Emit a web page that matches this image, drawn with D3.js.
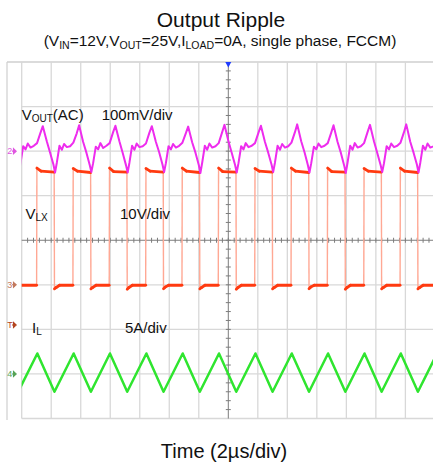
<!DOCTYPE html>
<html>
<head>
<meta charset="utf-8">
<script src="https://cdn.jsdelivr.net/npm/d3@7"></script>
<style>
  html, body { margin: 0; padding: 0; background: #fff; }
  svg { display: block; font-family: "Liberation Sans", Arial, Helvetica, sans-serif; }
</style>
</head>
<body>
<svg id="chart" width="433" height="467"></svg>
<script>
// ---- scope settings ----
// 2 µs/div over 14 horizontal divisions, 8 vertical divisions, trigger at t = 0
const timeGrid = [-14, -12, -10, -8, -6, -4, -2, 0, 2, 4, 6, 8, 10, 12, 14];   // µs
const divGrid = [-4, -3, -2, -1, 0, 1, 2, 3, 4];

// ---- V_OUT (AC coupled), [time µs, mV] ----
const voutTrace = [
  [-15.03, 54], [-14.76, 21], [-14.53, -5], [-14.31, -31], [-14.20, -47], [-14.08, -27], [-13.90, 11], [-13.74, 4], [-13.59, 17], [-13.40, 8], [-13.18, 12], [-12.96, 18], [-12.73, 41],
  [-12.57, 56], [-12.30, 22], [-12.07, -4], [-11.85, -30], [-11.74, -48], [-11.62, -26], [-11.44, 12], [-11.28, 3], [-11.13, 16], [-10.94, 9], [-10.72, 11], [-10.50, 19], [-10.27, 40],
  [-10.11, 58], [-9.84, 21], [-9.61, -4], [-9.39, -31], [-9.28, -47], [-9.16, -27], [-8.98, 10], [-8.82, 4], [-8.67, 18], [-8.48, 7], [-8.26, 12], [-8.04, 18], [-7.81, 42],
  [-7.65, 57], [-7.38, 22], [-7.15, -5], [-6.93, -32], [-6.82, -48], [-6.70, -26], [-6.52, 12], [-6.36, 3], [-6.21, 17], [-6.02, 9], [-5.80, 11], [-5.58, 17], [-5.35, 41],
  [-5.18, 56], [-4.91, 21], [-4.68, -3], [-4.46, -30], [-4.35, -47], [-4.23, -27], [-4.05, 11], [-3.89, 4], [-3.74, 16], [-3.55, 8], [-3.33, 12], [-3.11, 19], [-2.88, 40],
  [-2.72, 55], [-2.45, 20], [-2.22, -4], [-2.00, -31], [-1.89, -49], [-1.77, -26], [-1.59, 12], [-1.43, 3], [-1.28, 17], [-1.09, 8], [-0.87, 11], [-0.65, 18], [-0.42, 42],
  [-0.26, 59], [0.01, 22], [0.24, -5], [0.46, -31], [0.57, -48], [0.69, -27], [0.87, 11], [1.03, 4], [1.18, 18], [1.37, 9], [1.59, 12], [1.81, 18], [2.04, 41],
  [2.21, 57], [2.48, 21], [2.71, -4], [2.93, -30], [3.04, -47], [3.16, -26], [3.34, 12], [3.50, 3], [3.65, 16], [3.84, 8], [4.06, 11], [4.28, 19], [4.51, 42],
  [4.67, 60], [4.94, 22], [5.17, -3], [5.39, -31], [5.50, -48], [5.62, -27], [5.80, 10], [5.96, 4], [6.11, 17], [6.30, 9], [6.52, 12], [6.74, 18], [6.97, 41],
  [7.13, 58], [7.40, 21], [7.63, -4], [7.85, -32], [7.96, -49], [8.08, -26], [8.26, 12], [8.42, 3], [8.57, 18], [8.76, 8], [8.98, 11], [9.20, 18], [9.43, 42],
  [9.60, 59], [9.87, 22], [10.10, -5], [10.32, -31], [10.43, -47], [10.55, -27], [10.73, 11], [10.89, 4], [11.04, 17], [11.23, 9], [11.45, 12], [11.67, 19], [11.90, 42],
  [12.06, 60], [12.33, 21], [12.56, -4], [12.78, -30], [12.89, -48], [13.01, -26], [13.19, 12], [13.35, 3], [13.50, 17], [13.69, 8], [13.91, 11], [14.13, 18], [14.36, 41],
  [14.52, 58]
];

// ---- V_LX switch node, [time µs, V] ----
const vlxTrace = [
  [-14.50, -0.1],
  [-12.99, -0.1], [-12.97, 26.2], [-12.69, 25.5], [-11.80, 25.3], [-11.78, -0.9], [-11.66, -0.6], [-11.43, -0.1],
  [-10.53, -0.1], [-10.51, 26.1], [-10.23, 25.5], [-9.33, 25.2], [-9.31, -0.9], [-9.19, -0.6], [-8.96, -0.1],
  [-8.07, -0.1], [-8.05, 26.2], [-7.77, 25.4], [-6.87, 25.3], [-6.85, -1.0], [-6.73, -0.6], [-6.50, -0.1],
  [-5.60, -0.1], [-5.58, 26.1], [-5.30, 25.5], [-4.41, 25.3], [-4.39, -0.9], [-4.27, -0.5], [-4.04, -0.1],
  [-3.14, -0.1], [-3.12, 26.2], [-2.84, 25.5], [-1.95, 25.2], [-1.93, -0.9], [-1.81, -0.6], [-1.58, -0.1],
  [-0.68, -0.1], [-0.66, 26.2], [-0.38, 25.4], [0.52, 25.3], [0.54, -1.0], [0.66, -0.6], [0.89, -0.1],
  [1.79, -0.1], [1.81, 26.1], [2.09, 25.5], [2.98, 25.3], [3.00, -0.9], [3.12, -0.6], [3.35, -0.1],
  [4.25, -0.1], [4.27, 26.2], [4.55, 25.5], [5.45, 25.2], [5.47, -0.9], [5.59, -0.5], [5.82, -0.1],
  [6.71, -0.1], [6.73, 26.2], [7.01, 25.4], [7.91, 25.3], [7.93, -1.0], [8.05, -0.6], [8.28, -0.1],
  [9.18, -0.1], [9.20, 26.1], [9.48, 25.5], [10.37, 25.3], [10.39, -0.9], [10.51, -0.6], [10.74, -0.1],
  [11.64, -0.1], [11.66, 26.2], [11.94, 25.5], [12.83, 25.2], [12.85, -0.9], [12.97, -0.6], [13.20, -0.1],
  [14.10, -0.1], [14.12, 26.2]
];

// ---- inductor current, valley / peak corners ----
const ilTime = [-14.24, -12.94, -11.78, -10.48, -9.31, -8.02, -6.85, -5.55, -4.39, -3.09, -1.93, -0.63,
                0.54, 1.84, 3.00, 4.30, 5.47, 6.76, 7.93, 9.23, 10.39, 11.69, 12.85, 14.15];   // µs
const ilAmps = [-2.0, 2.3, -2.0, 2.3, -2.0, 2.3, -2.0, 2.3, -2.0, 2.3, -2.0, 2.3,
                -2.0, 2.3, -2.0, 2.3, -2.0, 2.3, -2.0, 2.3, -2.0, 2.3, -2.0, 2.3];       // A

// ---- text ----
const titleText = "Output Ripple";
const xAxisText = "Time (2\u00B5s/div)";
const scaleLabels = ["100mV/div", "10V/div", "5A/div"];

// ---- geometry ----
const svg = d3.select("#chart");
const gridLeft = 21.7, gridTop = 62, gridBottom = 418.5, svgW = 433;
const x = d3.scaleLinear().domain([-14, 14]).range([gridLeft, 434.9]);
const yDiv = d3.scaleLinear().domain([-4, 4]).range([gridBottom, gridTop]);
// per-channel vertical scales: offset (div) and units/div
const yVout = d3.scaleLinear().domain([(-4 - 2) * 100, (4 - 2) * 100]).range([gridBottom, gridTop]); // CH2 100 mV/div, +2 div
const yVlx = d3.scaleLinear().domain([(-4 + 1) * 10, (4 + 1) * 10]).range([gridBottom, gridTop]);    // CH3 10 V/div, -1 div
const yIl = d3.scaleLinear().domain([(-4 + 3) * 5, (4 + 3) * 5]).range([gridBottom, gridTop]);       // CH4 5 A/div, -3 div

// ---- frame and graticule ----
const grid = svg.append("g");
grid.append("line").attr("x1", 7).attr("x2", 7).attr("y1", gridTop).attr("y2", 420)
  .attr("stroke", "#cfcfcf").attr("stroke-width", 1.2);
grid.append("line").attr("x1", 7).attr("x2", svgW).attr("y1", gridTop).attr("y2", gridTop)
  .attr("stroke", "#cfcfcf").attr("stroke-width", 1.3);

grid.selectAll("line.v").data(timeGrid.filter(t => t !== 0)).join("line")
  .attr("x1", d => x(d)).attr("x2", d => x(d))
  .attr("y1", gridTop).attr("y2", gridBottom)
  .attr("stroke", "#d8d8d8").attr("stroke-width", 1.3);
grid.selectAll("line.h").data(divGrid.filter(d => d !== 0 && d !== 4)).join("line")
  .attr("x1", gridLeft).attr("x2", svgW)
  .attr("y1", d => yDiv(d)).attr("y2", d => yDiv(d))
  .attr("stroke", "#d8d8d8").attr("stroke-width", 1.3);

// centre axes with minor ticks
const axisCol = "#7c7c7c";
grid.append("line").attr("x1", x(0)).attr("x2", x(0)).attr("y1", gridTop).attr("y2", gridBottom)
  .attr("stroke", axisCol).attr("stroke-width", 1);
grid.append("line").attr("x1", gridLeft).attr("x2", svgW).attr("y1", yDiv(0)).attr("y2", yDiv(0))
  .attr("stroke", axisCol).attr("stroke-width", 1);
grid.selectAll("line.vt").data(d3.range(-19, 20).map(i => i * 0.2)).join("line")
  .attr("x1", x(0) - 2.5).attr("x2", x(0) + 2.5)
  .attr("y1", d => yDiv(d)).attr("y2", d => yDiv(d))
  .attr("stroke", axisCol).attr("stroke-width", 1);
grid.selectAll("line.ht").data(d3.range(-34, 35).map(i => i * 0.4)).join("line")
  .attr("x1", d => x(d)).attr("x2", d => x(d))
  .attr("y1", yDiv(0) - 2.5).attr("y2", yDiv(0) + 2.5)
  .attr("stroke", axisCol).attr("stroke-width", 1);

// trigger position marker
svg.append("path")
  .attr("d", `M${x(0) - 3},${gridTop} L${x(0) + 3},${gridTop} L${x(0)},${gridTop + 5.5} Z`)
  .attr("fill", "#1f3cff");

// ---- traces ----
svg.append("clipPath").attr("id", "plotClip")
  .append("rect").attr("x", gridLeft).attr("y", gridTop).attr("width", svgW - gridLeft).attr("height", gridBottom - gridTop);
const traces = svg.append("g").attr("clip-path", "url(#plotClip)");

// CH3: switch node, fast edges drawn faint, settled levels drawn bold
const vlxSegs = d3.pairs(vlxTrace).map(([a, b]) => ({a, b, edge: Math.abs(b[1] - a[1]) > 5}));
traces.selectAll("line.edge").data(vlxSegs.filter(s => s.edge)).join("line")
  .attr("x1", s => x(s.a[0])).attr("y1", s => yVlx(s.a[1]))
  .attr("x2", s => x(s.b[0])).attr("y2", s => yVlx(s.b[1]))
  .attr("stroke", "#ffa894").attr("stroke-width", 1.4);
traces.selectAll("line.level").data(vlxSegs.filter(s => !s.edge)).join("line")
  .attr("x1", s => x(s.a[0])).attr("y1", s => yVlx(s.a[1]))
  .attr("x2", s => x(s.b[0])).attr("y2", s => yVlx(s.b[1]))
  .attr("stroke", "#ff3a10").attr("stroke-width", 2.8).attr("stroke-linecap", "round");

// CH2: output ripple
traces.append("path").datum(voutTrace)
  .attr("d", d3.line().x(d => x(d[0])).y(d => yVout(d[1])))
  .attr("fill", "none").attr("stroke", "#ee2cee").attr("stroke-width", 2)
  .attr("stroke-linejoin", "round");

// CH4: inductor current
traces.append("path").datum(ilTime.map((t, i) => [t, ilAmps[i]]))
  .attr("d", d3.line().x(d => x(d[0])).y(d => yIl(d[1])))
  .attr("fill", "none").attr("stroke", "#2fe52f").attr("stroke-width", 2.5)
  .attr("stroke-linejoin", "round");

// ---- channel reference markers ----
const markers = [
  {label: "2", y: yVout(0), color: "#e055e0"},
  {label: "3", y: yVlx(0), color: "#c2785c"},
  {label: "T", y: 325, color: "#b4441e"},
  {label: "4", y: yIl(0), color: "#55a255"}
];
const mk = svg.append("g");
mk.selectAll("text").data(markers).join("text")
  .attr("x", 7.3).attr("y", d => d.y + 3.2)
  .attr("font-size", 9).attr("fill", d => d.color).text(d => d.label);
mk.selectAll("path").data(markers).join("path")
  .attr("d", d => `M12,${d.y} L14,${d.y} M13.5,${d.y - 2.5} L16.2,${d.y} L13.5,${d.y + 2.5} Z`)
  .attr("stroke", d => d.color).attr("stroke-width", 1.1).attr("fill", d => d.color);

// ---- channel labels ----
const lab = svg.append("g").attr("fill", "#111").attr("font-size", 15);
const vo = lab.append("text").attr("x", 21.7).attr("y", 119.5);
vo.append("tspan").text("V");
vo.append("tspan").attr("font-size", 10).attr("dy", 2).text("OUT");
vo.append("tspan").attr("dy", -2).text("(AC)");
lab.append("text").attr("x", 101.7).attr("y", 119.5).text(scaleLabels[0]);

const vl = lab.append("text").attr("x", 25.5).attr("y", 218.5);
vl.append("tspan").text("V");
vl.append("tspan").attr("font-size", 10).attr("dy", 2.5).text("LX");
lab.append("text").attr("x", 120).attr("y", 218.5).text(scaleLabels[1]);

const il = lab.append("text").attr("x", 32).attr("y", 332.5);
il.append("tspan").text("I");
il.append("tspan").attr("font-size", 10).attr("dy", 2.5).text("L");
lab.append("text").attr("x", 125).attr("y", 332.5).text(scaleLabels[2]);

// ---- titles ----
svg.append("text").attr("x", 221).attr("y", 26.5).attr("text-anchor", "middle")
  .attr("font-size", 21).attr("fill", "#111").text(titleText);

const sub = svg.append("text").attr("x", 220).attr("y", 46).attr("text-anchor", "middle")
  .attr("font-size", 15.5).attr("fill", "#111");
[["(V", 0], ["IN", 1], ["=12V,V", 0], ["OUT", 1], ["=25V,I", 0], ["LOAD", 1], ["=0A, single phase, FCCM)", 0]]
  .forEach(([s, low], i, arr) => {
    const prevLow = i > 0 ? arr[i - 1][1] : 0;
    sub.append("tspan")
      .attr("font-size", low ? 10.5 : 15.5)
      .attr("dy", low === prevLow ? 0 : (low ? 3 : -3))
      .text(s);
  });

svg.append("text").attr("x", 224).attr("y", 458).attr("text-anchor", "middle")
  .attr("font-size", 20).attr("fill", "#111").text(xAxisText);
</script>
</body>
</html>
